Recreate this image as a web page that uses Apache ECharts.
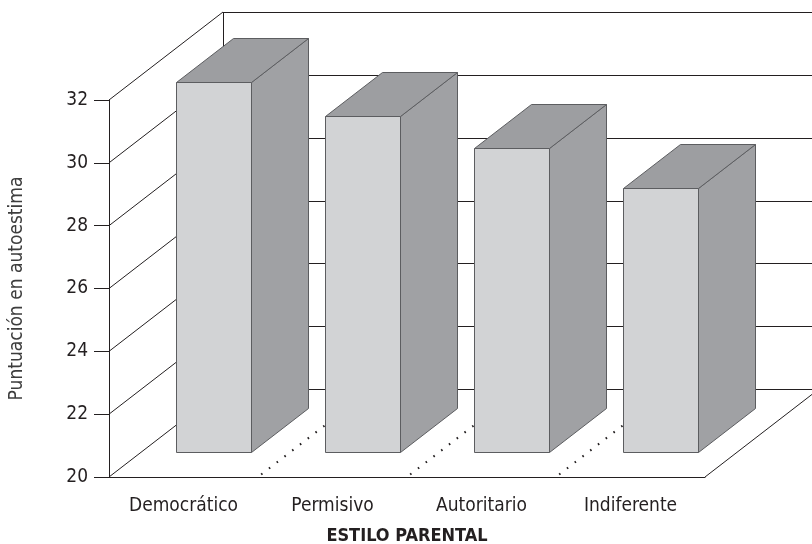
<!DOCTYPE html>
<html>
<head>
<meta charset="utf-8">
<title>Estilo parental y autoestima</title>
<script src="https://cdn.jsdelivr.net/npm/echarts@6/dist/echarts.min.js"></script>
<style>
  html, body { margin: 0; padding: 0; background: #fff; }
  #chart { width: 812px; height: 544px; }
</style>
</head>
<body>
<div id="chart"></div>
<script>
// datos
const categories = ['Democrático', 'Permisivo', 'Autoritario', 'Indiferente'];
const scores = [31.8, 30.7, 29.7, 28.4];
const yTicks = [20, 22, 24, 26, 28, 30, 32];

// perspectiva falsa 3D (en pixeles)
const DX = 114, DY = -88;       // fondo del "cubo"
const BAR_FRONT = 0.28;         // donde empieza la barra en profundidad
const BAR_BACK = 0.78;
const BAR_SHIFT = -2;

const FONT = "'DejaVu Sans Condensed', 'DejaVu Sans', sans-serif";
const INK = '#231f20';

// lineas nitidas de 1px
const crisp = v => Math.round(v) + 0.5;

// paredes: diagonal izquierda + linea de fondo para cada tick
function renderWall(params, api) {
  const cs = params.coordSys;
  const v = api.value(1);
  const y = api.coord([0, v])[1];
  const x0 = cs.x;
  const st = { stroke: INK, lineWidth: 1 };
  const yb = crisp(y + DY);
  const children = [
    { type: 'line', shape: { x1: x0, y1: y, x2: x0 + DX, y2: y + DY }, style: st },
    { type: 'line', shape: { x1: x0 + DX, y1: yb, x2: cs.x + cs.width + DX + 20, y2: yb }, style: st }
  ];
  if (params.dataIndex === 0) {
    // arista vertical del fondo y borde derecho del suelo
    const xv = crisp(x0 + DX);
    children.push({ type: 'line', shape: { x1: xv, y1: cs.y + DY, x2: xv, y2: cs.y + cs.height + DY }, style: st });
    const xr = cs.x + cs.width, yf = cs.y + cs.height;
    children.push({ type: 'line', shape: { x1: xr, y1: yf, x2: xr + DX, y2: yf + DY }, style: st });
  }
  return { type: 'group', children: children };
}

// separadores punteados del suelo
function renderDots(params, api) {
  const i = api.value(0);
  const p = api.coord([i, yTicks[0]]);
  const half = api.size([1, 0])[0] / 2;
  const x = p[0] + half;
  return {
    type: 'line',
    shape: { x1: x, y1: p[1], x2: x + DX, y2: p[1] + DY },
    style: { stroke: INK, lineWidth: 2, lineDash: [1.6, 8.2], lineDashOffset: -4 }
  };
}

function renderBar(params, api) {
  const i = api.value(0);
  const base = api.coord([i, yTicks[0]]);
  const top = api.coord([i, api.value(1)]);
  const w = Math.round(api.size([1, 0])[0] * 0.5);
  const fx = DX * BAR_FRONT, fy = DY * BAR_FRONT;
  const dx = DX * (BAR_BACK - BAR_FRONT), dy = DY * (BAR_BACK - BAR_FRONT);
  const x0 = crisp(base[0] - w / 2 + fx + BAR_SHIFT);
  const x1 = x0 + w;
  const yt = crisp(top[1] + fy), yb = crisp(base[1] + fy);
  const edge = { stroke: '#5c5d60', lineWidth: 1 };
  return {
    type: 'group',
    children: [
      { type: 'polygon', shape: { points: [[x1, yt], [x1 + dx, yt + dy], [x1 + dx, yb + dy], [x1, yb]] },
        style: Object.assign({ fill: '#a0a1a4' }, edge) },
      { type: 'polygon', shape: { points: [[x0, yt], [x0 + dx, yt + dy], [x1 + dx, yt + dy], [x1, yt]] },
        style: Object.assign({ fill: '#9d9ea1' }, edge) },
      { type: 'rect', shape: { x: x0, y: yt, width: w, height: yb - yt },
        style: Object.assign({ fill: '#d2d3d5' }, edge) }
    ]
  };
}

const chart = echarts.init(document.getElementById('chart'));
chart.setOption({
  animation: false,
  textStyle: { fontFamily: FONT },
  grid: { left: 109, right: 107, top: 100, bottom: 67, outerBoundsMode: 'none' },
  xAxis: {
    type: 'category',
    data: categories,
    name: 'ESTILO PARENTAL',
    nameLocation: 'middle',
    nameGap: 50,
    nameTextStyle: { fontFamily: FONT, fontSize: 18, fontWeight: 'bold', color: INK },
    axisLine: { lineStyle: { color: INK, width: 1 } },
    axisTick: { alignWithLabel: true, length: 15, lineStyle: { color: INK } },
    axisLabel: { fontFamily: FONT, fontSize: 19, color: INK, margin: 20 }
  },
  yAxis: {
    type: 'value',
    min: 20,
    max: 32,
    interval: 2,
    name: 'Puntuación en autoestima',
    nameLocation: 'middle',
    nameRotate: 90,
    nameGap: 82,
    nameTextStyle: { fontFamily: FONT, fontSize: 19, color: '#3d3d3d' },
    axisLine: { show: true, lineStyle: { color: INK, width: 1 } },
    axisTick: { show: true, length: 15, lineStyle: { color: INK } },
    axisLabel: { fontFamily: FONT, fontSize: 19, color: INK, margin: 21 },
    splitLine: { show: false }
  },
  series: [
    {
      type: 'custom',
      name: 'paredes',
      z: 1,
      renderItem: renderWall,
      data: yTicks.map(v => [0, v]),
      silent: true
    },
    {
      type: 'custom',
      name: 'separadores',
      z: 1,
      renderItem: renderDots,
      data: categories.slice(0, -1).map((c, i) => [i, yTicks[0]]),
      silent: true
    },
    {
      type: 'custom',
      name: 'autoestima',
      z: 3,
      renderItem: renderBar,
      data: scores.map((s, i) => [i, s])
    }
  ]
});
</script>
</body>
</html>
